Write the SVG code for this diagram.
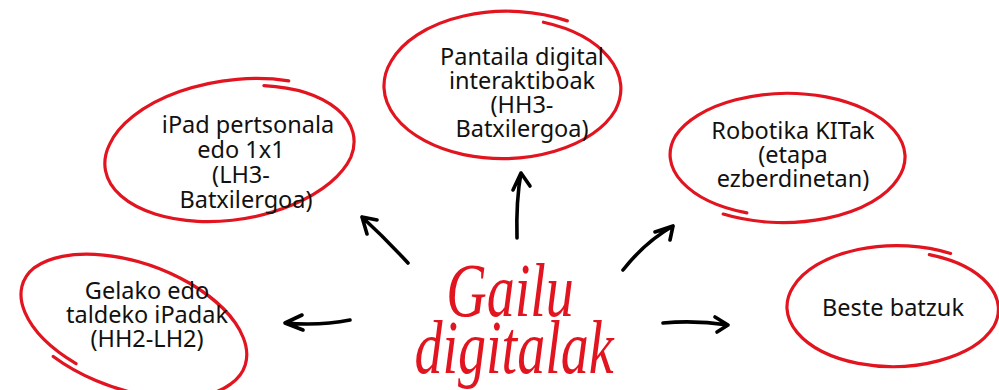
<svg xmlns="http://www.w3.org/2000/svg" xmlns:xlink="http://www.w3.org/1999/xlink" width="999" height="390" viewBox="0 0 999 390">
<style>
.loop{fill:none;stroke:#e1141f;stroke-width:3.2;stroke-linecap:round;vector-effect:non-scaling-stroke}
.lbl{font-family:"Noto Sans","DejaVu Sans",sans-serif;font-size:23.5px;fill:#111;text-anchor:middle}
.arr{fill:none;stroke:#000;stroke-width:3.6;stroke-linecap:round;stroke-linejoin:round}
.title{font-family:"Liberation Serif","DejaVu Serif",serif;font-style:italic;font-size:56px;fill:#e1141f;text-anchor:middle}
</style>
<defs>
<path id="loop" class="loop" d="M31.8,-87.4 A97 97 0 0 1 91.2,33.2 A99 99 0 0 1 -34.2,94 A100 100 0 0 1 -94,-34.2 A101 101 0 0 1 51.5,-89.2"/>
</defs>
<rect width="999" height="390" fill="#fff"/>
<g id="connectors">
<path class="arr" d="M517,238 Q516,200 521,173 M513,190 L521,173 L530,186"/>
<path class="arr" d="M408,263 Q385,238 362,217 M377,220 L362,217 L367,234"/>
<path class="arr" d="M623,270 Q645,242 673,226 M655,232 L673,226 L670,240"/>
<path class="arr" d="M350,320 Q320,326 285,323 M302,315 L285,323 L303,330"/>
<path class="arr" d="M663,323 Q695,320 728,325 M715,317 L728,325 L717,332"/>
</g>
<g id="pantaila">
<use xlink:href="#loop" href="#loop" transform="translate(505,86) scale(1.21,0.73)"/>
<text class="lbl"><tspan x="522" y="65">Pantaila digital</tspan><tspan x="522" y="89">interaktiboak</tspan><tspan x="522" y="113">(HH3-</tspan><tspan x="522" y="137">Batxilergoa)</tspan></text>
</g>
<g id="ipad">
<use xlink:href="#loop" href="#loop" transform="translate(232,151) rotate(-8) scale(1.28,0.69)"/>
<text class="lbl"><tspan x="248" y="133">iPad pertsonala</tspan><tspan x="241" y="158">edo 1x1</tspan><tspan x="241" y="183">(LH3-</tspan><tspan x="246" y="208">Batxilergoa)</tspan></text>
</g>
<g id="robotika">
<use xlink:href="#loop" href="#loop" transform="translate(785,157) rotate(180) scale(1.2,0.64)"/>
<text class="lbl"><tspan x="793" y="139">Robotika KITak</tspan><tspan x="793" y="163">(etapa</tspan><tspan x="793" y="187">ezberdinetan)</tspan></text>
</g>
<g id="gelako">
<use xlink:href="#loop" href="#loop" transform="translate(131,325) rotate(200) scale(1.21,0.63)"/>
<text class="lbl"><tspan x="147" y="299">Gelako edo</tspan><tspan x="147" y="323">taldeko iPadak</tspan><tspan x="147" y="347">(HH2-LH2)</tspan></text>
</g>
<g id="beste">
<use xlink:href="#loop" href="#loop" transform="translate(895,307) scale(1.08,0.6)"/>
<text class="lbl" x="893" y="316">Beste batzuk</text>
</g>
<g id="title">
<text class="title" transform="translate(510,316) scale(1,1.35)">Gailu</text>
<text class="title" transform="translate(514,373) scale(1,1.35)">digitalak</text>
</g>
</svg>
